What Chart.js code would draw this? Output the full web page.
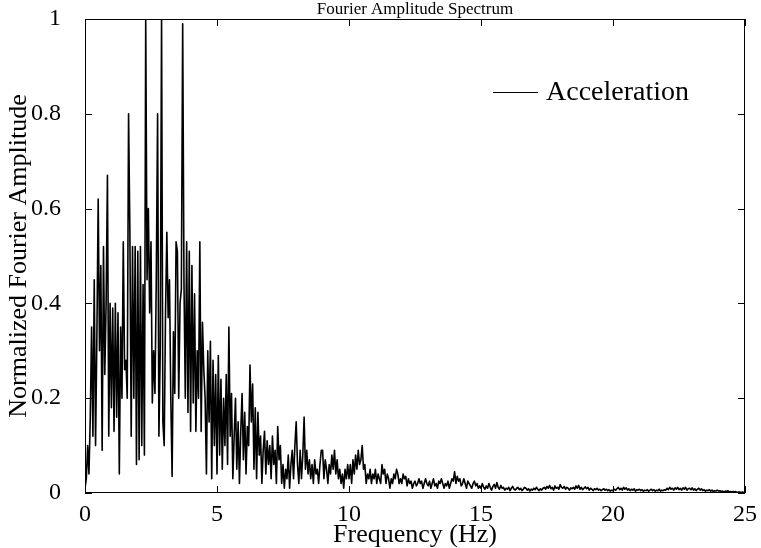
<!DOCTYPE html>
<html><head><meta charset="utf-8">
<script src="https://cdn.jsdelivr.net/npm/chart.js@4.4.1/dist/chart.umd.min.js"></script>
<style>html,body{margin:0;padding:0;background:#fff}#wrap{width:761px;height:548px}</style>
</head><body><div id="wrap"><canvas id="c" width="761" height="548"></canvas></div>
<script>
const chartTitle = 'Fourier Amplitude Spectrum';
const xAxisTitle = 'Frequency (Hz)';
const yAxisTitle = 'Normalized Fourier Amplitude';
const seriesName = 'Acceleration';
const freqStart = 0;
const freqStep = 0.05;

const amp0to5 = [
 0.01,0.03,0.10,0.04,0.16,0.35,0.12,0.45,0.10,0.33,0.62,0.30,0.48,0.09,0.52,0.25,0.40,0.67,0.12,0.40,
 0.18,0.39,0.13,0.40,0.16,0.38,0.04,0.35,0.20,0.53,0.26,0.28,0.20,0.80,0.55,0.12,0.52,0.20,0.52,0.06,
 0.51,0.07,0.52,0.10,0.44,0.08,1.00,0.45,0.60,0.38,0.53,0.19,0.30,0.21,0.45,0.80,0.12,0.30,1.00,0.15,
 0.10,0.38,0.55,0.37,0.45,0.20,0.035,0.34,0.21,0.53,0.51,0.20,0.40,0.43,0.99,0.44,0.20,0.53,0.17,0.51,
 0.13,0.48,0.19,0.42,0.13,0.30,0.20,0.53,0.13,0.36,0.26,0.20,0.04,0.30,0.15,0.32,0.03,0.28,0.10,0.25
];
const amp5to10 = [
 0.04,0.29,0.08,0.24,0.05,0.20,0.10,0.25,0.06,0.35,0.12,0.21,0.03,0.12,0.20,0.05,0.15,0.02,0.13,0.21,
 0.07,0.17,0.04,0.14,0.10,0.27,0.15,0.23,0.05,0.18,0.03,0.17,0.08,0.12,0.02,0.09,0.13,0.04,0.11,0.06,
 0.10,0.03,0.12,0.06,0.09,0.02,0.14,0.07,0.10,0.02,0.06,0.01,0.05,0.03,0.08,0.01,0.06,0.09,0.03,0.10,
 0.15,0.06,0.02,0.09,0.03,0.08,0.16,0.05,0.09,0.04,0.07,0.03,0.06,0.02,0.07,0.04,0.05,0.02,0.06,0.09,
 0.09,0.03,0.07,0.05,0.02,0.06,0.04,0.08,0.05,0.09,0.04,0.07,0.03,0.05,0.02,0.04,0.01,0.05,0.03,0.06
];
const amp10to15 = [
 0.03,0.06,0.02,0.07,0.04,0.08,0.05,0.09,0.06,0.07,0.10,0.05,0.06,0.02,0.04,0.03,0.05,0.02,0.04,0.03,
 0.05,0.02,0.04,0.03,0.02,0.06,0.04,0.05,0.02,0.04,0.03,0.01,0.03,0.02,0.04,0.03,0.05,0.04,0.02,0.03,
 0.02,0.04,0.03,0.035,0.015,0.03,0.02,0.025,0.01,0.02,0.025,0.015,0.02,0.03,0.02,0.025,0.01,0.02,0.03,0.02,
 0.015,0.025,0.01,0.02,0.03,0.015,0.02,0.01,0.025,0.02,0.03,0.02,0.01,0.02,0.015,0.025,0.01,0.02,0.03,0.025,
 0.045,0.02,0.035,0.025,0.03,0.015,0.02,0.03,0.02,0.01,0.025,0.02,0.015,0.01,0.02,0.025,0.015,0.02,0.01,0.015
];
const amp15to20 = [
 0.01,0.02,0.012,0.008,0.015,0.01,0.02,0.012,0.006,0.014,0.018,0.01,0.022,0.012,0.008,0.016,0.01,0.012,0.006,0.01,
 0.008,0.012,0.005,0.01,0.014,0.008,0.006,0.01,0.012,0.007,0.01,0.005,0.008,0.012,0.01,0.006,0.009,0.004,0.008,0.006,
 0.01,0.007,0.012,0.008,0.005,0.009,0.006,0.01,0.012,0.008,0.014,0.01,0.016,0.009,0.012,0.006,0.015,0.01,0.012,0.008,
 0.018,0.012,0.01,0.014,0.008,0.012,0.01,0.006,0.011,0.009,0.012,0.008,0.015,0.01,0.016,0.008,0.012,0.007,0.01,0.013,
 0.009,0.012,0.006,0.01,0.008,0.005,0.009,0.007,0.01,0.006,0.008,0.005,0.007,0.009,0.006,0.008,0.005,0.007,0.004,0.006
];
const amp20to25 = [
 0.005,0.008,0.006,0.009,0.012,0.007,0.01,0.006,0.012,0.008,0.011,0.006,0.009,0.005,0.008,0.006,0.009,0.004,0.007,0.006,
 0.008,0.005,0.007,0.004,0.006,0.005,0.007,0.004,0.006,0.008,0.005,0.007,0.004,0.006,0.005,0.008,0.004,0.006,0.005,0.007,
 0.006,0.01,0.007,0.012,0.008,0.01,0.006,0.011,0.008,0.012,0.007,0.01,0.006,0.011,0.008,0.012,0.006,0.009,0.01,0.007,
 0.011,0.006,0.009,0.005,0.008,0.01,0.006,0.009,0.005,0.007,0.004,0.006,0.005,0.007,0.004,0.006,0.003,0.005,0.004,0.006,
 0.004,0.005,0.003,0.004,0.002,0.004,0.003,0.005,0.002,0.003,0.002,0.003,0.002,0.003,0.001,0.002,0.002,0.001,0.002,0.001,
 0.001
];

const xTickValues = [0, 5, 10, 15, 20, 25];
const xTickLabels = ['0', '5', '10', '15', '20', '25'];
const yTickValues = [0, 0.2, 0.4, 0.6, 0.8, 1];
const yTickLabels = ['0', '0.2', '0.4', '0.6', '0.8', '1'];

const amplitudes = [].concat(amp0to5, amp5to10, amp10to15, amp15to20, amp20to25);
const points = amplitudes.map((a, i) => ({ x: freqStart + i * freqStep, y: a }));

const FONT = "'Liberation Serif', 'Times New Roman', serif";

const boxPlugin = {
  id: 'matlabBox',
  afterDatasetsDraw(chart) {
    const { ctx, chartArea: a, scales: { x, y } } = chart;
    ctx.save();
    ctx.strokeStyle = '#000';
    ctx.lineWidth = 1;
    ctx.strokeRect(Math.round(a.left) + 0.5, Math.round(a.top) + 0.5,
      Math.round(a.right - a.left) - 1, Math.round(a.bottom - a.top) - 1);
    const L = 7;
    ctx.beginPath();
    x.ticks.forEach((t, i) => {
      const px = Math.round(x.getPixelForTick(i)) + 0.5;
      ctx.moveTo(px, a.bottom); ctx.lineTo(px, a.bottom - L);
      ctx.moveTo(px, a.top); ctx.lineTo(px, a.top + L);
    });
    y.ticks.forEach((t, i) => {
      const py = Math.round(y.getPixelForTick(i)) + 0.5;
      ctx.moveTo(a.left, py); ctx.lineTo(a.left + L, py);
      ctx.moveTo(a.right, py); ctx.lineTo(a.right - L, py);
    });
    ctx.stroke();
    // title above the axes
    ctx.fillStyle = '#000';
    ctx.font = "17px " + FONT;
    ctx.textAlign = 'center';
    ctx.textBaseline = 'middle';
    ctx.fillText(chartTitle, (a.left + a.right) / 2, a.top - 9);
    // legend (inside the axes, top right, no frame)
    const ds = chart.data.datasets[0];
    const ly = a.top + 73.5;
    ctx.beginPath();
    ctx.strokeStyle = ds.borderColor;
    ctx.lineWidth = 1;
    ctx.moveTo(a.right - 252, ly);
    ctx.lineTo(a.right - 207, ly);
    ctx.stroke();
    ctx.font = "28px " + FONT;
    ctx.textBaseline = 'middle';
    ctx.textAlign = 'left';
    ctx.fillText(ds.label, a.right - 199, ly);
    ctx.restore();
  }
};

const hiddenTicks = (len) => ({
  display: true, drawOnChartArea: false, drawTicks: true,
  tickLength: len, tickColor: 'rgba(0,0,0,0)'
});

new Chart(document.getElementById('c'), {
  type: 'line',
  data: {
    datasets: [{
      label: seriesName,
      data: points,
      borderColor: '#000',
      borderWidth: 1.6,
      borderJoinStyle: 'round',
      pointRadius: 0,
      tension: 0,
      fill: false
    }]
  },
  options: {
    responsive: false,
    animation: false,
    devicePixelRatio: 1,
    layout: { padding: { left: 0, right: 16, top: 19, bottom: 0 } },
    plugins: {
      legend: { display: false },
      tooltip: { enabled: false },
      title: { display: false }
    },
    scales: {
      x: {
        type: 'linear',
        min: 0, max: 25,
        afterBuildTicks: (s) => { s.ticks = xTickValues.map(v => ({ value: v })); },
        afterFit: (s) => { s.height = 55; },
        grid: hiddenTicks(5),
        border: { display: false },
        ticks: {
          color: '#000',
          padding: 2,
          maxRotation: 0,
          font: { family: FONT, size: 24 },
          callback: (v) => { const i = xTickValues.indexOf(v); return i >= 0 ? xTickLabels[i] : ''; }
        },
        title: {
          display: true,
          text: xAxisTitle,
          color: '#000',
          font: { family: FONT, size: 26, lineHeight: 1 },
          padding: { top: 0, bottom: 0 }
        }
      },
      y: {
        type: 'linear',
        min: 0, max: 1,
        afterBuildTicks: (s) => { s.ticks = yTickValues.map(v => ({ value: v })); },
        afterFit: (s) => { s.width = 85; },
        grid: hiddenTicks(22),
        border: { display: false },
        ticks: {
          color: '#000',
          padding: 2,
          font: { family: FONT, size: 24 },
          callback: (v) => { const i = yTickValues.indexOf(v); return i >= 0 ? yTickLabels[i] : ''; }
        },
        title: {
          display: true,
          text: yAxisTitle,
          color: '#000',
          font: { family: FONT, size: 26, lineHeight: 1.2 },
          padding: { top: 4, bottom: 0 }
        }
      }
    }
  },
  plugins: [boxPlugin]
});
</script>
</body></html>
